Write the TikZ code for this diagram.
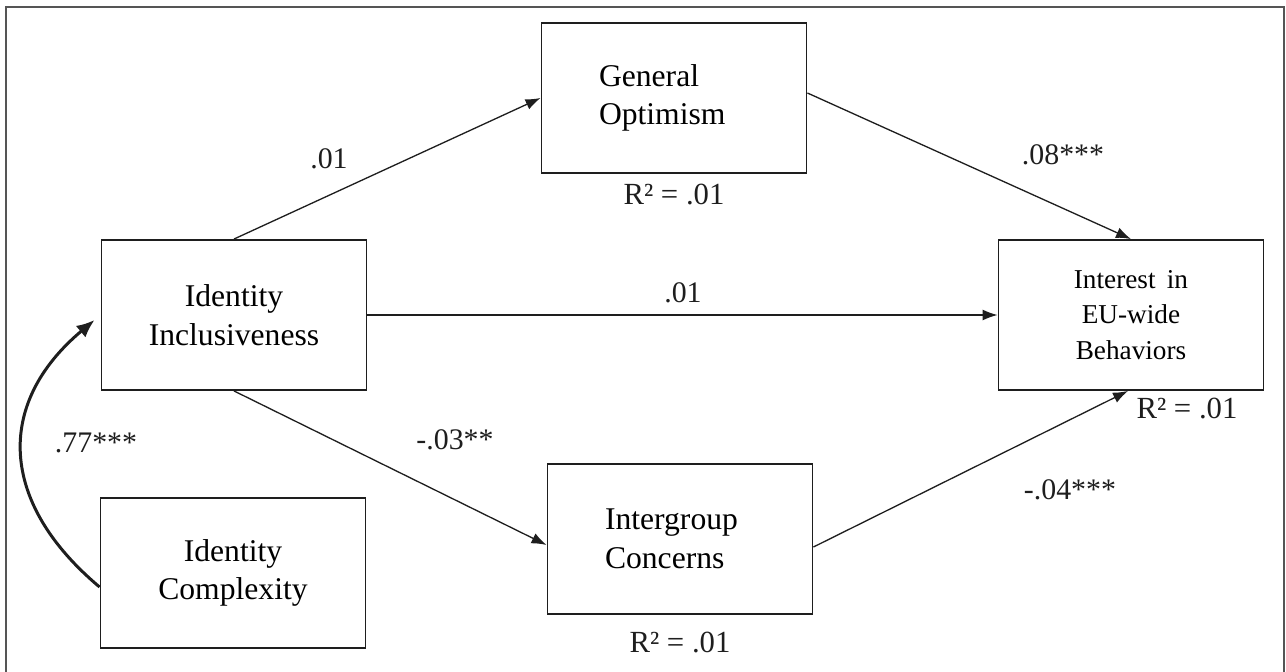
\documentclass[tikz,border=0pt]{standalone}
\usepackage{fontspec}
\setmainfont{Liberation Serif}
\usetikzlibrary{arrows.meta, positioning}
\definecolor{framegray}{RGB}{85, 85, 85}
\definecolor{ink}{RGB}{30, 30, 30}

\begin{document}
\begin{tikzpicture}[
            x=0.02cm, y=-0.02cm,
            varbox/.style={draw=ink, line width=1.1pt, minimum width=5.3cm, minimum height=3cm, align=center, font=\fontsize{18}{22}\selectfont},
            leftbox/.style={varbox, text width=3cm, align=left},
            coef/.style={font=\fontsize{17}{20}\selectfont, text=ink},
            rsq/.style={font=\fontsize{17.5}{20}\selectfont, text=ink},
            path/.style={-{Latex[length=0.3cm, width=0.22cm]}, line width=0.75pt, ink},
            corr/.style={-{Latex[length=0.36cm, width=0.3cm]}, line width=1.7pt, ink}
        ]
            \useasboundingbox (0,0) rectangle (1286,672);
            \draw[framegray, line width=1.2pt] (6,672) -- (6,7) -- (1284,7) -- (1284,672);

            \node[varbox] (incl) at (234,315) {Identity\\Inclusiveness};
            \node[varbox] (cplx) at (233,573) {Identity\\Complexity};
            \node[leftbox] (opt) at (674,98) {General\\Optimism};
            \node[leftbox] (inter) at (680,539) {Intergroup\\Concerns};
            \node[varbox, font=\fontsize{15.5}{20}\selectfont] (eu) at (1131,315) {Interest\, in\\EU-wide\\Behaviors};

            \node[rsq, below=0.08cm of opt] (ropt) {R² = .01};
            \node[rsq, below=0.22cm of inter] (rinter) {R² = .01};
            \node[rsq, below=0.02cm of eu.south, xshift=1.12cm] (reu) {R² = .01};

            \draw[path] (incl.north) -- (opt.west);
            \draw[path] ([yshift=0.1cm]opt.east) -- (eu.north);
            \draw[path] (incl.east) -- (eu.west);
            \draw[path] (incl.south) -- ([yshift=-0.12cm]inter.west);
            \draw[path] ([yshift=-0.16cm]inter.east) -- ([xshift=-0.06cm]eu.south);
            \draw[corr] ([yshift=-0.28cm]cplx.west) to[out=140, in=220, looseness=1.25] ([xshift=-0.12cm, yshift=-0.1cm]incl.west);

            \node[coef] (c1) at (329,159) {.01};
            \node[coef] (c2) at (1063,155) {.08***};
            \node[coef] (c3) at (683,293) {.01};
            \node[coef] (c4) at (455,440) {-.03**};
            \node[coef] (c5) at (1070,490) {-.04***};
            \node[coef] (c6) at (96,443) {.77***};
        \end{tikzpicture}
\end{document}
